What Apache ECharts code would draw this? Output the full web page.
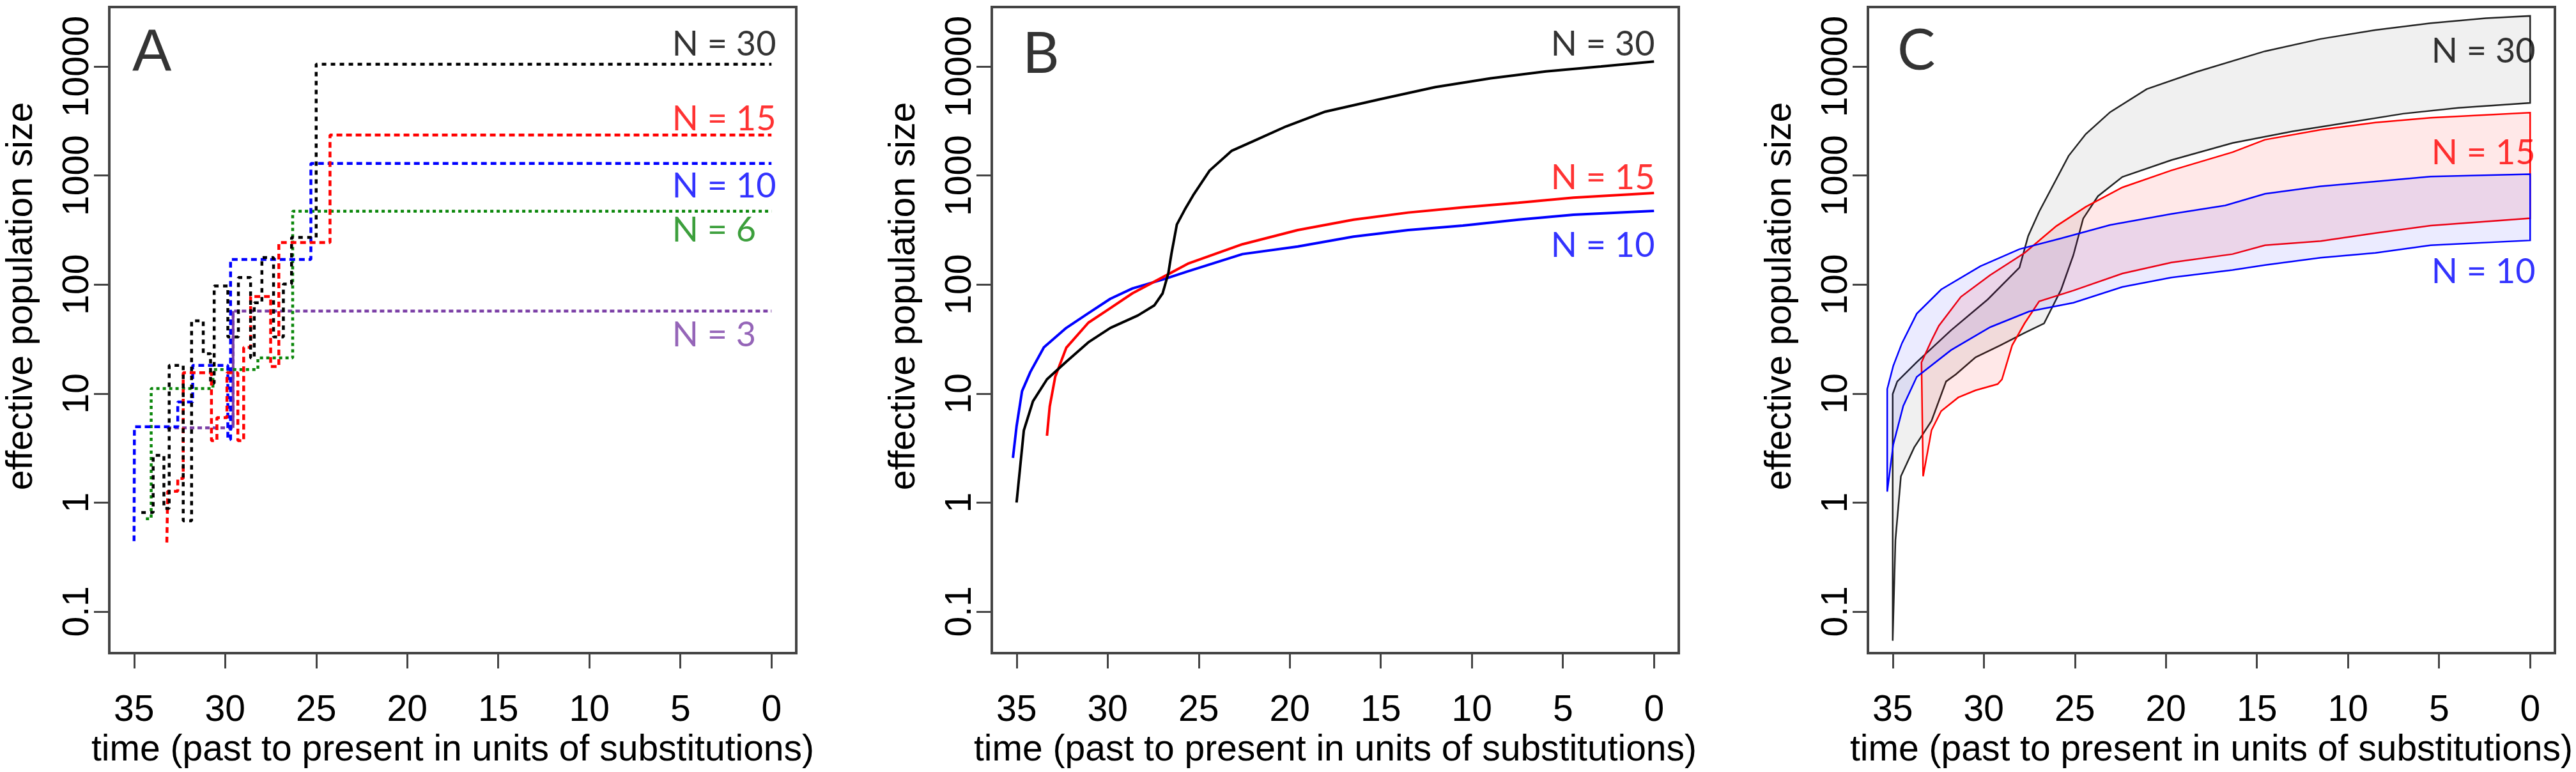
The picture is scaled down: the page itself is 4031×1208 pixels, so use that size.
<!DOCTYPE html>
<html>
<head>
<meta charset="utf-8">
<script src="https://cdn.jsdelivr.net/npm/echarts@6/dist/echarts.min.js"></script>
<style>
html, body { margin: 0; padding: 0; background: #fff; }
#main { width: 4031px; height: 1208px; }
</style>
</head>
<body>
<div id="main"></div>
<script>
// axis ticks
var timeTicks = [0, 5, 10, 15, 20, 25, 30, 35];
var sizeTicks = [0.1, 1, 10, 100, 1000, 10000];

// panel A - step estimates (time, Ne)
var a3Time = [33.2, 29.56, 0];
var a3Size = [4.84, 57, 57];
var a6Time = [34.35, 34.06, 30.67, 28.2, 26.29, 0];
var a6Size = [0.71, 11.1, 16.6, 21.2, 470, 470];
var a10Time = [35.0, 34.98, 32.6, 31.78, 29.85, 29.7, 25.29, 0];
var a10Size = [0.443, 4.95, 8.36, 18.1, 3.79, 170, 1290, 1290];
var a15Time = [33.2, 33.15, 32.6, 32.3, 30.75, 30.45, 29.9, 29.3, 28.98, 28.6, 27.5, 27.05, 24.24, 0];
var a15Size = [0.43, 1.27, 1.66, 15.5, 3.7, 6, 15.5, 3.7, 26.5, 77.5, 17.7, 243, 2350, 2350];
var a30Time = [34.6, 33.95, 33.36, 33.07, 32.3, 31.84, 31.2, 30.8, 30.6, 29.85, 29.27, 28.6, 28.4, 27.98, 27.34, 26.8, 26.35, 25.0, 0];
var a30Size = [0.81, 2.71, 0.885, 18.1, 0.68, 46.4, 23.2, 12.4, 97, 33, 116, 21.2, 68, 177, 33, 101, 270, 10500, 10500];

// panel B - mean curves
var b10Time = [35.2, 35.0, 34.7, 34.24, 33.5, 32.27, 31.06, 29.85, 28.64, 26.83, 25.6, 22.6, 19.56, 16.5, 13.5, 10.5, 7.45, 4.42, 0];
var b10Size = [2.57, 5, 10.5, 15.8, 26.5, 40, 54.5, 74, 92, 113, 132, 190, 223, 275, 316, 347, 393, 437, 474];
var b15Time = [33.33, 33.18, 32.88, 32.27, 31.06, 29.85, 28.64, 27.13, 25.6, 22.6, 19.56, 16.5, 13.5, 10.5, 7.45, 4.42, 0];
var b15Size = [4.1, 7.6, 14.2, 26.3, 44.6, 60.8, 83, 113, 155, 234, 316, 393, 457, 510, 563, 627, 690];
var b30Time = [35.0, 34.6, 34.1, 33.33, 32.27, 31.06, 29.85, 28.34, 27.43, 26.98, 26.67, 26.5, 26.2, 25.77, 25.3, 24.4, 23.2, 22.0, 20.2, 18.05, 15.0, 12.0, 8.96, 5.94, 2.91, 0];
var b30Size = [1.0, 4.6, 8.5, 13.5, 19.6, 29.5, 40, 52, 64.5, 83, 126, 190, 355, 484, 660, 1110, 1680, 2065, 2820, 3850, 5030, 6470, 7800, 9000, 10000, 11100];

// panel C - upper / lower bounds
var c30HiTime = [35.0, 34.75, 33.68, 31.8, 29.78, 28.04, 27.56, 26.96, 25.34, 24.4, 23.06, 21.05, 18.35, 14.56, 11.5, 8.5, 5.46, 2.43, 0];
var c30HiSize = [9.9, 12.9, 19.4, 38, 73, 143, 279, 466, 1515, 2400, 3815, 6200, 8890, 13800, 17900, 21600, 25000, 27700, 29100];
var c30LoTime = [35.0, 34.85, 34.55, 33.82, 32.87, 32.07, 31.53, 30.45, 29.11, 27.76, 26.69, 25.75, 25.08, 24.54, 23.73, 22.39, 19.7, 16.34, 13.04, 10.0, 6.97, 3.94, 0];
var c30LoSize = [0.054, 0.45, 1.74, 3.2, 5.6, 12.9, 15, 21.5, 27.6, 36, 44, 90, 186, 403, 646, 970, 1385, 1986, 2540, 3060, 3690, 4170, 4630];
var c15HiTime = [33.42, 32.87, 32.47, 31.26, 29.65, 27.76, 26.02, 24.4, 22.39, 19.7, 16.34, 14.56, 11.5, 8.5, 5.46, 0];
var c15HiSize = [19.3, 30.7, 41.7, 77, 122, 195, 343, 516, 778, 1114, 1637, 2130, 2630, 3060, 3390, 3770];
var c15LoTime = [33.33, 32.87, 32.34, 31.4, 30.45, 29.24, 29.0, 28.44, 27.76, 26.96, 25.08, 22.39, 19.7, 16.34, 14.56, 11.5, 8.5, 5.46, 0];
var c15LoSize = [1.74, 4.6, 6.9, 9.2, 10.7, 12.2, 13.5, 27.7, 44, 70, 88, 126, 159, 190, 229, 250, 296, 347, 405];
var c10HiTime = [35.3, 34.97, 34.49, 33.68, 32.34, 30.19, 28.04, 25.76, 23.06, 19.7, 16.74, 14.56, 11.5, 8.5, 5.46, 0];
var c10HiSize = [11, 17.9, 29, 54, 90, 147, 211, 265, 352, 444, 531, 680, 795, 880, 977, 1030];
var c10LoTime = [35.3, 34.97, 34.42, 33.68, 31.8, 29.65, 27.5, 25.08, 22.39, 19.7, 16.34, 14.56, 11.5, 8.5, 5.46, 0];
var c10LoSize = [1.26, 3.4, 7.7, 14.2, 25, 40.6, 56.7, 68, 95, 116, 136, 151, 176, 195, 229, 254];

var BLACK = '#000000', RED = '#ff0000', BLUE = '#0000ff', GREEN = '#0b870b', PURPLE = '#7b3fa6';
var FONT = 'Liberation Sans';

function pairs(t, v) {
    var out = [];
    for (var i = 0; i < t.length; i++) out.push([t[i], v[i]]);
    return out;
}

var lefts = [171, 1552, 2923];
var grids = [], xAxes = [], yAxes = [];
for (var g = 0; g < 3; g++) {
    grids.push({left: lefts[g], top: 11, width: 1075, height: 1017, show: true,
        borderColor: '#444', borderWidth: 4, backgroundColor: 'transparent'});
    xAxes.push({
        gridIndex: g, type: 'value', inverse: true, min: -1.36, max: 36.36, position: 'bottom',
        name: 'time (past to present in units of substitutions)',
        nameLocation: 'middle', nameGap: 116,
        nameTextStyle: {fontFamily: FONT, fontSize: 57, color: '#000'},
        axisLine: {show: false, onZero: false},
        axisTick: {show: true, length: 24, customValues: timeTicks, lineStyle: {color: '#444', width: 3}},
        axisLabel: {customValues: timeTicks, margin: 62, fontFamily: FONT, fontSize: 57, color: '#000'},
        splitLine: {show: false}
    });
    yAxes.push({
        gridIndex: g, type: 'log', logBase: 10, min: 0.0415, max: 35100, position: 'left',
        name: 'effective population size',
        nameLocation: 'middle', nameGap: 108,
        nameTextStyle: {fontFamily: FONT, fontSize: 57, color: '#000', padding: [0, 0, 0, 106]},
        axisLine: {show: false, onZero: false},
        axisTick: {show: true, length: 24, customValues: sizeTicks, lineStyle: {color: '#444', width: 3}},
        axisLabel: {customValues: sizeTicks, rotate: 90, margin: 20, fontFamily: FONT, fontSize: 57, color: '#000',
            formatter: function (v) { return String(v); }},
        splitLine: {show: false}
    });
}

function stepLine(t, v, color, dash, idx) {
    return {type: 'line', xAxisIndex: idx, yAxisIndex: idx, step: 'end', data: pairs(t, v),
        showSymbol: false, silent: true,
        lineStyle: {color: color, width: 4.5, type: dash, cap: 'butt'}};
}
function curve(t, v, color, idx) {
    return {type: 'line', xAxisIndex: idx, yAxisIndex: idx, data: pairs(t, v),
        showSymbol: false, silent: true, lineStyle: {color: color, width: 4}};
}
function band(hiT, hiV, loT, loV, fill, stroke, idx) {
    return {
        type: 'custom', xAxisIndex: idx, yAxisIndex: idx, silent: true,
        data: [[hiT[0], hiV[0]]],
        renderItem: function (params, api) {
            var pts = [];
            for (var i = 0; i < hiT.length; i++) pts.push(api.coord([hiT[i], hiV[i]]));
            for (var j = loT.length - 1; j >= 0; j--) pts.push(api.coord([loT[j], loV[j]]));
            return {type: 'polygon', shape: {points: pts},
                style: {fill: fill, stroke: stroke, lineWidth: 2.5}};
        }
    };
}
// text labels anchored in data space
function textMarks(items, idx) {
    return {
        type: 'scatter', xAxisIndex: idx, yAxisIndex: idx, symbolSize: 0, silent: true,
        data: items.map(function (d) {
            return {name: d.text, value: [d.t, d.v],
                label: {color: d.color, fontSize: d.size, fontFamily: d.font}};
        }),
        label: {show: true, position: 'right', distance: 0, formatter: '{b}',
            align: 'left', verticalAlign: 'middle'}
    };
}

var labelsA = [
    {text: 'A', t: 35.1, v: 12760, color: BLACK, size: 92, font: FONT},
    {text: 'N = 30', t: 5.46, v: 16000, color: BLACK, size: 54, font: 'Lato'},
    {text: 'N = 15', t: 5.46, v: 3290, color: RED, size: 54, font: 'Lato'},
    {text: 'N = 10', t: 5.46, v: 794, color: BLUE, size: 54, font: 'Lato'},
    {text: 'N = 6', t: 5.46, v: 315, color: GREEN, size: 54, font: 'Lato'},
    {text: 'N = 3', t: 5.46, v: 34.4, color: PURPLE, size: 54, font: 'Lato'}
];
var labelsB = [
    {text: 'B', t: 34.68, v: 12900, color: BLACK, size: 89, font: 'Lato'},
    {text: 'N = 30', t: 5.67, v: 16000, color: BLACK, size: 54, font: 'Lato'},
    {text: 'N = 15', t: 5.67, v: 946, color: RED, size: 54, font: 'Lato'},
    {text: 'N = 10', t: 5.67, v: 228, color: BLUE, size: 54, font: 'Lato'}
];
var labelsC = [
    {text: 'C', t: 34.75, v: 13800, color: BLACK, size: 89, font: 'Lato'},
    {text: 'N = 30', t: 5.42, v: 13800, color: BLACK, size: 54, font: 'Lato'},
    {text: 'N = 15', t: 5.42, v: 1596, color: RED, size: 54, font: 'Lato'},
    {text: 'N = 10', t: 5.42, v: 131, color: BLUE, size: 54, font: 'Lato'}
];

var series = [
    stepLine(a3Time, a3Size, PURPLE, [7, 5], 0),
    {type: 'line', xAxisIndex: 0, yAxisIndex: 0, showSymbol: false, silent: true,
        data: [[a3Time[1], a3Size[0]], [a3Time[1], a3Size[1]]],
        lineStyle: {color: PURPLE, width: 4}},
    stepLine(a6Time, a6Size, GREEN, [5, 5], 0),
    stepLine(a10Time, a10Size, BLUE, [9, 6], 0),
    stepLine(a15Time, a15Size, RED, [9, 6], 0),
    stepLine(a30Time, a30Size, BLACK, [7, 7], 0),
    textMarks(labelsA, 0),

    curve(b10Time, b10Size, BLUE, 1),
    curve(b15Time, b15Size, RED, 1),
    curve(b30Time, b30Size, BLACK, 1),
    textMarks(labelsB, 1),

    band(c30HiTime, c30HiSize, c30LoTime, c30LoSize, 'rgba(0,0,0,0.06)', '#222', 2),
    band(c15HiTime, c15HiSize, c15LoTime, c15LoSize, 'rgba(255,0,0,0.09)', RED, 2),
    band(c10HiTime, c10HiSize, c10LoTime, c10LoSize, 'rgba(0,0,255,0.08)', BLUE, 2),
    textMarks(labelsC, 2)
];

var chart = echarts.init(document.getElementById('main'), null, {renderer: 'canvas'});
chart.setOption({
    animation: false,
    backgroundColor: '#fff',
    grid: grids,
    xAxis: xAxes,
    yAxis: yAxes,
    series: series
});
</script>
</body>
</html>
